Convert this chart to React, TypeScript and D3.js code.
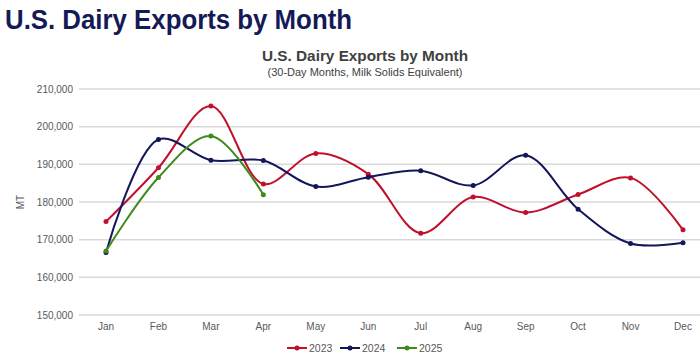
import React from "react";
import * as d3 from "d3";

const months = ["Jan","Feb","Mar","Apr","May","Jun","Jul","Aug","Sep","Oct","Nov","Dec"];
const values2023 = [174800,189100,205500,184800,192900,187400,171700,181300,177200,182000,186400,172600];
const values2024 = [166600,196600,191100,191000,184100,186600,188300,184400,192400,178100,169000,169200];
const values2025 = [167000,186500,197500,181900];
const yTicks = [150000,160000,170000,180000,190000,200000,210000];
const seriesNames = ["2023","2024","2025"];
const seriesColors = ["#c0102c","#12165a","#3f8a1c"];

export default function App() {
  const W = 700, H = 355;
  const x = d3.scalePoint<string>().domain(months).range([106, 683]);
  const y = d3.scaleLinear().domain([150000, 210000]).range([315, 89]);
  const fmt = d3.format(",");
  const series = [values2023, values2024, values2025];
  const line = d3.line<number>()
    .x((_, i) => x(months[i]) as number)
    .y(d => y(d))
    .curve(d3.curveCatmullRom.alpha(0.5));
  const legendX = [287, 340, 397];
  return (
    <svg width={W} height={H} style={{ position: "absolute", left: 0, top: 0, background: "#fff" }}
      fontFamily="'Liberation Sans', Arial, sans-serif">
      <text x={5} y={29} fontSize={28} fontWeight="bold" fill="#141a55" textLength={347} lengthAdjust="spacingAndGlyphs">U.S. Dairy Exports by Month</text>
      <text x={365} y={61} textAnchor="middle" fontSize={15} fontWeight="bold" fill="#404040" textLength={206} lengthAdjust="spacingAndGlyphs">U.S. Dairy Exports by Month</text>
      <text x={365} y={76} textAnchor="middle" fontSize={10.5} fill="#404040" textLength={195} lengthAdjust="spacingAndGlyphs">(30-Day Months, Milk Solids Equivalent)</text>
      {yTicks.map(t => (
        <g key={t}>
          <line x1={79} x2={700} y1={y(t)} y2={y(t)} stroke="#d9d9d9" strokeWidth={1.5} />
          <text x={73} y={y(t)} dy="0.35em" textAnchor="end" fontSize={10} fill="#595959">{fmt(t)}</text>
        </g>
      ))}
      <text transform={`translate(20,${y(180000)}) rotate(-90)`} textAnchor="middle" dy="0.35em" fontSize={10} fill="#595959">MT</text>
      {months.map(m => (
        <text key={m} x={x(m)} y={330} textAnchor="middle" fontSize={10} fill="#595959">{m}</text>
      ))}
      {series.map((s, si) => (
        <g key={si}>
          <path d={line(s) || ""} fill="none" stroke={seriesColors[si]} strokeWidth={2} />
          {s.map((v, i) => (
            <circle key={i} cx={x(months[i])} cy={y(v)} r={2.5} fill={seriesColors[si]} />
          ))}
        </g>
      ))}
      {seriesNames.map((n, i) => (
        <g key={n}>
          <line x1={legendX[i]} x2={legendX[i] + 20} y1={348} y2={348} stroke={seriesColors[i]} strokeWidth={2} />
          <circle cx={legendX[i] + 10} cy={348} r={2.5} fill={seriesColors[i]} />
          <text x={legendX[i] + 22} y={348} dy="0.35em" fontSize={10.5} fill="#595959">{n}</text>
        </g>
      ))}
    </svg>
  );
}
